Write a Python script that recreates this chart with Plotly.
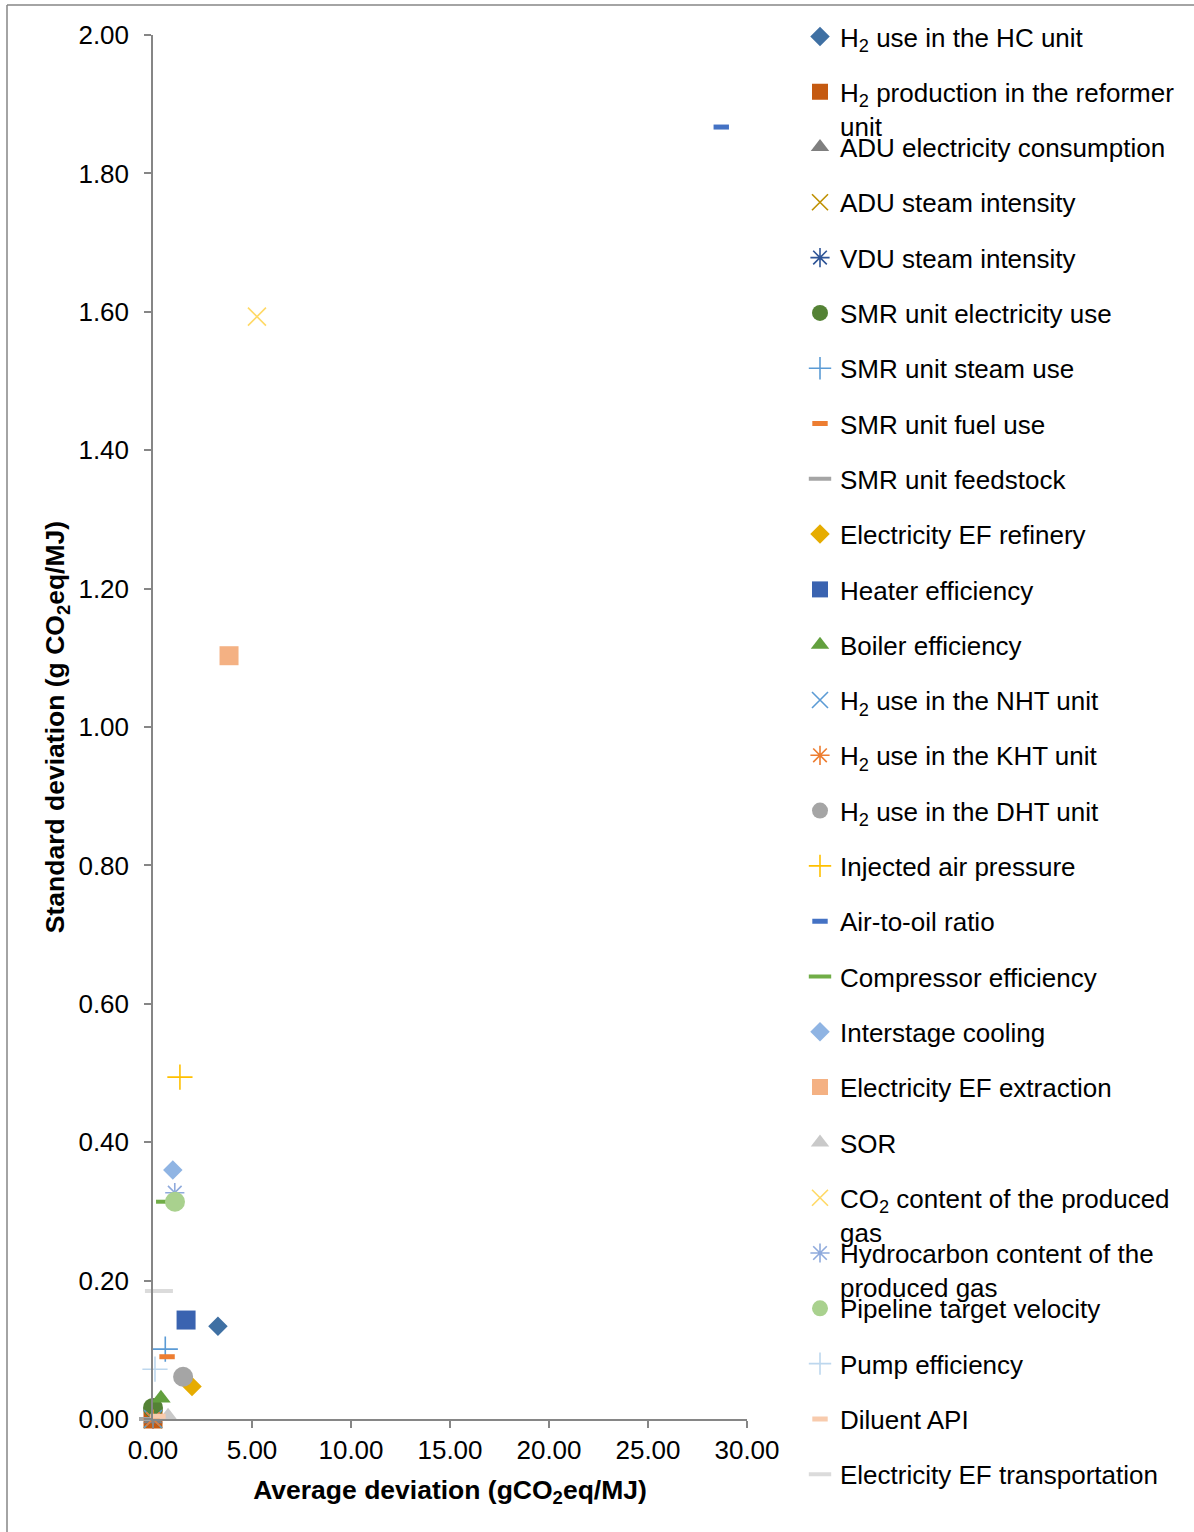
import plotly.graph_objects as go

names = [
    "H<sub>2</sub> use in the HC unit",
    "H<sub>2</sub> production in the reformer<br>unit",
    "ADU electricity consumption",
    "ADU steam intensity",
    "VDU steam intensity",
    "SMR unit electricity use",
    "SMR unit steam use",
    "SMR unit fuel use",
    "SMR unit feedstock",
    "Electricity EF refinery",
    "Heater efficiency",
    "Boiler efficiency",
    "H<sub>2</sub> use in the NHT unit",
    "H<sub>2</sub> use in the KHT unit",
    "H<sub>2</sub> use in the DHT unit",
    "Injected air pressure",
    "Air-to-oil ratio",
    "Compressor efficiency",
    "Interstage cooling",
    "Electricity EF extraction",
    "SOR",
    "CO<sub>2</sub> content of the produced<br>gas",
    "Hydrocarbon content of the<br>produced gas",
    "Pipeline target velocity",
    "Pump efficiency",
    "Diluent API",
    "Electricity EF transportation",
]

avg_dev = [3.28, 0.0, 0.0, 0.0, 0.0, 0.0, 0.62, 0.71, 0.0, 1.97, 1.67, 0.40, 0.0, 0.0, 1.52,
           1.36, 28.70, 0.86, 1.00, 3.84, 0.76, 5.25, 1.10, 1.11, 0.10, 0.25, 0.30]
std_dev = [0.134, 0.0, 0.0, 0.0, 0.0, 0.016, 0.101, 0.090, 0.0, 0.047, 0.143, 0.030, 0.0, 0.0, 0.061,
           0.494, 1.867, 0.314, 0.360, 1.103, 0.004, 1.593, 0.327, 0.314, 0.072, 0.004, 0.185]

symbols = ["diamond", "square", "triangle-up", "x-thin", "asterisk", "circle", "cross-thin", "line-ew",
           "line-ew", "diamond", "square", "triangle-up", "x-thin", "asterisk", "circle", "cross-thin",
           "line-ew", "line-ew", "diamond", "square", "triangle-up", "x-thin", "asterisk", "circle",
           "cross-thin", "line-ew", "line-ew"]
colors = ["#3F70A3", "#C55A11", "#7F7F7F", "#BF9000", "#2F5597", "#548235", "#5B9BD5", "#ED7D31",
          "#A5A5A5", "#E6AC00", "#3A63B0", "#62A03E", "#5B9BD5", "#ED7D31", "#A5A5A5", "#FFC000",
          "#4472C4", "#70AD47", "#8FB4E3", "#F4B183", "#C9C9C9", "#FFD966", "#8FAADC", "#A9D18E",
          "#BDD7EE", "#F8CBAD", "#DBDBDB"]
long_dash = {8, 17, 26}

x_ticks = [0, 5, 10, 15, 20, 25, 30]
y_ticks = [0, 0.2, 0.4, 0.6, 0.8, 1.0, 1.2, 1.4, 1.6, 1.8, 2.0]

# layout geometry (pixels)
W, H = 1194, 1532
L, R, T, B = 153, 747, 35, 1419
PH = B - T
PW = R - L

FONT = "Liberation Sans, Arial, sans-serif"

fig = go.Figure()
layout_legends = {}
for i, name in enumerate(names):
    sym = symbols[i]
    col = colors[i]
    if sym in ("x-thin", "cross-thin", "asterisk"):
        marker = dict(symbol=sym, size=18 if sym != "asterisk" else 16, color=col,
                      line=dict(color=col, width=1.6))
    elif sym == "line-ew":
        if i in long_dash:
            marker = dict(symbol=sym, size=20, color=col, line=dict(color=col, width=4))
        else:
            marker = dict(symbol=sym, size=11, color=col, line=dict(color=col, width=5))
    elif sym == "diamond":
        marker = dict(symbol=sym, size=15, color=col, line=dict(width=0))
    elif sym == "square":
        marker = dict(symbol=sym, size=19, color=col, line=dict(width=0))
    elif sym == "circle":
        marker = dict(symbol=sym, size=20, color=col, line=dict(width=0))
    else:
        marker = dict(symbol=sym, size=17, color=col, line=dict(width=0))
    lkey = "legend" if i == 0 else f"legend{i + 1}"
    fig.add_trace(go.Scatter(x=[avg_dev[i]], y=[std_dev[i]], mode="markers", name=name,
                             marker=marker, legend=lkey, cliponaxis=False))
    ycenter = 38 + i * 55.3
    ytop = ycenter - 25
    layout_legends[lkey] = dict(
        x=(800 - L) / PW, xanchor="left",
        y=(B - ytop) / PH, yanchor="top",
        font=dict(family=FONT, size=26, color="black"),
        bgcolor="rgba(0,0,0,0)", valign="top",
    )

fig.update_layout(**layout_legends)

axis_common = dict(
    showline=True, linecolor="#868686", linewidth=1.5,
    ticks="outside", ticklen=7, tickcolor="#868686", tickwidth=1.5,
    showgrid=False, zeroline=False,
    tickfont=dict(family=FONT, size=26, color="black"),
    automargin=False,
)

fig.update_xaxes(range=[0, 30], tickvals=x_ticks, ticktext=[f"{v:.2f}" for v in x_ticks],
                 title=dict(text="Average deviation (gCO<sub>2</sub>eq/MJ)",
                            font=dict(family=FONT, size=26.5, color="black", weight="bold"),
                            standoff=16),
                 **axis_common)
fig.update_yaxes(range=[0, 2.0], tickvals=y_ticks, ticktext=[f"{v:.2f}" for v in y_ticks],
                 ticklabelstandoff=10,
                 title=dict(text="Standard deviation (g CO<sub>2</sub>eq/MJ)",
                            font=dict(family=FONT, size=26.5, color="black", weight="bold"),
                            standoff=6),
                 **axis_common)

fig.update_layout(
    width=W, height=H,
    margin=dict(l=L, r=W - R, t=T, b=H - B, autoexpand=False),
    paper_bgcolor="white", plot_bgcolor="white",
    showlegend=True,
    shapes=[
        dict(type="line", xref="paper", yref="paper",
             x0=(7 - L) / PW, x1=(1200 - L) / PW, y0=(B - 5) / PH, y1=(B - 5) / PH,
             line=dict(color="#868686", width=1.5)),
        dict(type="line", xref="paper", yref="paper",
             x0=(7 - L) / PW, x1=(7 - L) / PW, y0=(B - 1540) / PH, y1=(B - 5) / PH,
             line=dict(color="#868686", width=1.5)),
    ],
)

fig.write_html("out.html", config={"displayModeBar": False},
               post_script="document.body.style.margin='0px';")
